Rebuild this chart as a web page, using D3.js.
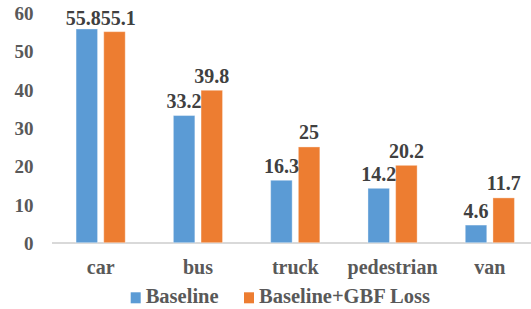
<!DOCTYPE html>
<html>
<head>
<meta charset="utf-8">
<script src="https://cdn.jsdelivr.net/npm/d3@7"></script>
<style>
  html, body { margin: 0; padding: 0; background: #fff; }
</style>
</head>
<body>
<div id="chart"></div>
<script>
const categories = ["car", "bus", "truck", "pedestrian", "van"];
const seriesNames = ["Baseline", "Baseline+GBF Loss"];
const baseline = [55.8, 33.2, 16.3, 14.2, 4.6];
const gbfLoss = [55.1, 39.8, 25, 20.2, 11.7];
const yTicks = [0, 10, 20, 30, 40, 50, 60];

const colors = ["#5B9BD5", "#ED7D31"];
const font = "'Liberation Serif', 'Times New Roman', serif";
const width = 531;
const height = 309;

const svg = d3.select("#chart")
  .append("svg")
  .attr("width", width)
  .attr("height", height);

function addText(sel) {
  return sel.append("text")
    .attr("font-family", font)
    .attr("font-weight", "bold")
    .style("font-family", font)
    .style("font-weight", "bold");
}

const x0 = d3.scaleBand()
  .domain(categories)
  .range([52, 538.5])
  .padding(0);

const x1 = d3.scaleBand()
  .domain(seriesNames)
  .range([0, x0.bandwidth()])
  .paddingInner(0.224)
  .paddingOuter(0.87);

const y = d3.scaleLinear()
  .domain([0, 60])
  .range([242.7, 12.9]);

const color = d3.scaleOrdinal().domain(seriesNames).range(colors);

// y tick labels, no axis line
yTicks.forEach(function(t) {
  addText(svg)
    .attr("x", 33.5)
    .attr("y", y(t) + 1)
    .attr("dy", "0.33em")
    .attr("text-anchor", "end")
    .attr("fill", "#595959")
    .attr("font-size", 19)
    .text(t);
});

// baseline
svg.append("line")
  .attr("x1", 52)
  .attr("x2", width)
  .attr("y1", y(0) + 0.2)
  .attr("y2", y(0) + 0.2)
  .attr("stroke", "#d9d9d9")
  .attr("stroke-width", 2);

const rows = categories.map(function(c, i) {
  return { category: c, values: [baseline[i], gbfLoss[i]] };
});

const groups = svg.append("g")
  .selectAll("g")
  .data(rows)
  .enter().append("g")
    .attr("transform", function(d) { return "translate(" + x0(d.category) + ",0)"; });

groups.selectAll("rect")
  .data(function(d) { return d.values.map(function(v, j) { return { name: seriesNames[j], value: v }; }); })
  .enter().append("rect")
    .attr("x", function(d) { return x1(d.name); })
    .attr("y", function(d) { return y(d.value); })
    .attr("width", x1.bandwidth())
    .attr("height", function(d) { return y(0) - y(d.value); })
    .attr("fill", function(d) { return color(d.name); })
    .attr("stroke", "#fff")
    .attr("stroke-opacity", 0.35)
    .attr("stroke-width", 1);

// value labels, kept inside the plot top
const labelTop = y(60) + 11.6;
groups.each(function(d) {
  const g = d3.select(this);
  const labels = d.values.map(function(v, j) {
    return addText(g)
      .attr("x", x1(seriesNames[j]) + x1.bandwidth() / 2)
      .attr("y", Math.max(y(v) - 7.5, labelTop))
      .attr("text-anchor", "middle")
      .attr("fill", "#404040")
      .attr("font-size", 20)
      .text(v);
  });
  // push the two labels apart if they collide
  const a = labels[0].node().getBBox();
  const b = labels[1].node().getBBox();
  const overlapX = (a.x + a.width) - b.x;
  const overlapY = Math.min(a.y + a.height, b.y + b.height) - Math.max(a.y, b.y);
  if (overlapX > 0 && overlapY > 0) {
    labels[0].attr("x", +labels[0].attr("x") - overlapX / 2);
    labels[1].attr("x", +labels[1].attr("x") + overlapX / 2);
  }
});

// category labels
categories.forEach(function(c) {
  addText(svg)
    .attr("x", x0(c) + x0.bandwidth() / 2)
    .attr("y", 274)
    .attr("text-anchor", "middle")
    .attr("fill", "#595959")
    .attr("font-size", 20)
    .text(c);
});

// legend
const legendX = [130.7, 244];
seriesNames.forEach(function(s, i) {
  svg.append("rect")
    .attr("x", legendX[i])
    .attr("y", 292.3)
    .attr("width", 10)
    .attr("height", 11)
    .attr("fill", color(s));
  addText(svg)
    .attr("x", legendX[i] + 15)
    .attr("y", 303.3)
    .attr("fill", "#595959")
    .attr("font-size", 20.5)
    .text(s);
});
</script>
</body>
</html>
